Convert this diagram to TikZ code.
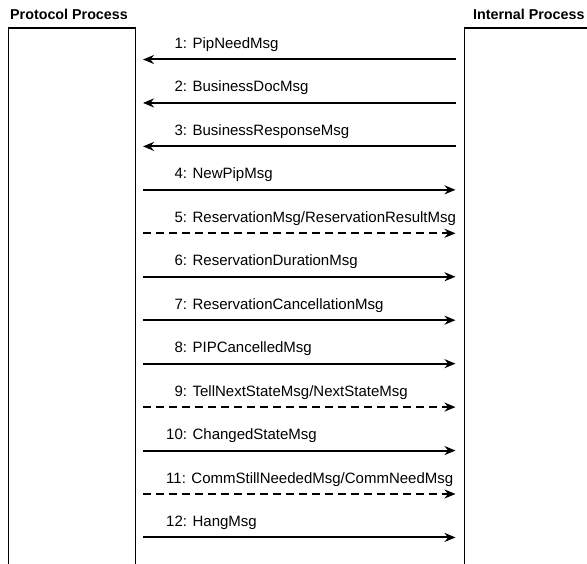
\documentclass[tikz,border=0pt]{standalone}
\usepackage{fontspec}
\setmainfont{Liberation Sans}
\usetikzlibrary{arrows.meta}

\tikzset{
  lifeline/.style={draw,line width=1.4pt,minimum height=600pt,anchor=north west,inner sep=0pt},
  msg/.style={line width=2pt,-{Stealth[length=11pt,width=9pt]}},
  reply/.style={msg,dash pattern=on 8pt off 5pt},
  msglabel/.style={anchor=base west,inner sep=0pt,font=\fontsize{15}{18}\selectfont},
  header/.style={anchor=base west,inner sep=0pt,font=\fontsize{14.3}{17}\selectfont\bfseries}
}

\begin{document}
\begin{tikzpicture}[x=1pt,y=1pt]
    \useasboundingbox (0,0) rectangle (587,-564);
    \clip (0,0) rectangle (587,-564);

    \node[header] (protohead) at (10,-20) {Protocol Process};
    \node[header] (inthead) at (473,-20) {Internal Process};
    \node[lifeline,minimum width=127pt] (proto) at (8,-27.5) {};
    \node[lifeline,minimum width=160pt] (intern) at (464,-27.5) {};

    % n / style / from / to / message
    \foreach \n/\s/\src/\dst/\lbl in {
        1/msg/b/a/PipNeedMsg,
        2/msg/b/a/BusinessDocMsg,
        3/msg/b/a/BusinessResponseMsg,
        4/msg/a/b/NewPipMsg,
        5/reply/a/b/{ReservationMsg/ReservationResultMsg},
        6/msg/a/b/ReservationDurationMsg,
        7/msg/a/b/ReservationCancellationMsg,
        8/msg/a/b/PIPCancelledMsg,
        9/reply/a/b/{TellNextStateMsg/NextStateMsg},
        10/msg/a/b/ChangedStateMsg,
        11/reply/a/b/{CommStillNeededMsg/CommNeedMsg},
        12/msg/a/b/HangMsg}
    {
        \pgfmathsetmacro{\y}{-59.5-43.45*(\n-1)}
        \coordinate (a\n) at (143,\y);
        \coordinate (b\n) at (455.5,\y);
        \node[msglabel] (t\n) at (166,\y+11) {\ifnum\n<10 \phantom{0}\fi\n: \lbl};
        \draw[\s] (\src\n) -- (\dst\n);
    }
\end{tikzpicture}
\end{document}
